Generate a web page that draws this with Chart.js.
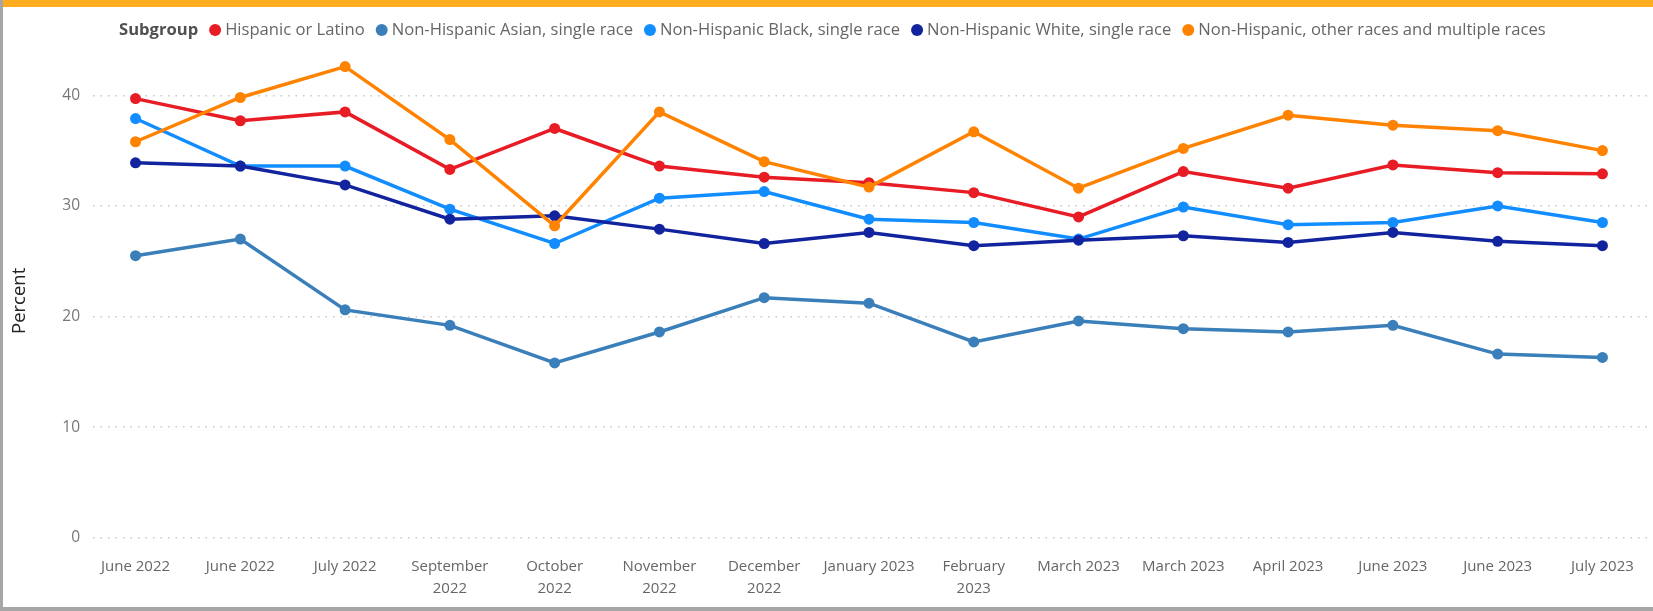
<!DOCTYPE html>
<html>
<head>
<meta charset="utf-8">
<title>Subgroup</title>
<style>
html, body { margin: 0; padding: 0; background: #fff; }
#wrap { position: relative; width: 1653px; height: 611px; overflow: hidden; }
#wrap canvas { position: absolute; left: 0; top: 0; }
.bar-top { position: absolute; left: 0; top: 0; width: 1653px; height: 7px; background: #FDAB1F; }
.bar-left { position: absolute; left: 0; top: 0; width: 3px; height: 611px; background: #A6A6A6; }
.bar-bottom { position: absolute; left: 0; top: 607px; width: 1653px; height: 4px; background: #A6A6A6; }
</style>
</head>
<body>
<div id="wrap">
    <canvas id="chart" width="1653" height="611"></canvas>
    <div class="bar-top"></div>
    <div class="bar-left"></div>
    <div class="bar-bottom"></div>
</div>

<script src="https://cdn.jsdelivr.net/npm/chart.js"></script>
<script>
const categories = ['June 2022', 'June 2022', 'July 2022', 'September 2022', 'October 2022',
    'November 2022', 'December 2022', 'January 2023', 'February 2023', 'March 2023',
    'March 2023', 'April 2023', 'June 2023', 'June 2023', 'July 2023'];
// tick labels as Power BI wraps them
const tickLabels = [['June 2022'], ['June 2022'], ['July 2022'], ['September', '2022'], ['October', '2022'],
    ['November', '2022'], ['December', '2022'], ['January 2023'], ['February', '2023'], ['March 2023'],
    ['March 2023'], ['April 2023'], ['June 2023'], ['June 2023'], ['July 2023']];

const hispanic = [39.7, 37.7, 38.5, 33.3, 37.0, 33.6, 32.6, 32.1, 31.2, 29.0, 33.1, 31.6, 33.7, 33.0, 32.9];
const asian    = [25.5, 27.0, 20.6, 19.2, 15.8, 18.6, 21.7, 21.2, 17.7, 19.6, 18.9, 18.6, 19.2, 16.6, 16.3];
const black    = [37.9, 33.6, 33.6, 29.7, 26.6, 30.7, 31.3, 28.8, 28.5, 27.0, 29.9, 28.3, 28.5, 30.0, 28.5];
const white    = [33.9, 33.6, 31.9, 28.8, 29.1, 27.9, 26.6, 27.6, 26.4, 26.9, 27.3, 26.7, 27.6, 26.8, 26.4];
const other    = [35.8, 39.8, 42.6, 36.0, 28.2, 38.5, 34.0, 31.7, 36.7, 31.6, 35.2, 38.2, 37.3, 36.8, 35.0];

const yTicks = [0, 10, 20, 30, 40];
const yTitle = 'Percent';

const FONT = '"Open Sans", "Noto Sans", sans-serif';

function series(label, values, color, order) {
    return {
        label: label,
        data: values.map((v, i) => ({ x: i, y: v })),
        borderColor: color,
        backgroundColor: color,
        borderWidth: 3.5,
        pointRadius: 5.5,
        pointBorderWidth: 0,
        pointHoverRadius: 5.5,
        tension: 0,
        order: order
    };
}

// legend drawn inline with a bold "Subgroup" caption, like Power BI,
// plus the y axis title sitting a bit below the axis middle
const subgroupLegend = {
    id: 'subgroupLegend',
    afterDraw(chart) {
        const ctx = chart.ctx;
        const y = 30;
        let x = 119;
        ctx.save();
        ctx.textBaseline = 'middle';
        ctx.textAlign = 'left';
        ctx.font = 'bold 16.6px ' + FONT;
        ctx.fillStyle = '#505050';
        ctx.fillText('Subgroup', x, y);
        x += ctx.measureText('Subgroup').width;
        ctx.font = '16.6px ' + FONT;
        chart.data.datasets.forEach(ds => {
            const cx = x + 17;
            ctx.beginPath();
            ctx.arc(cx, y, 6, 0, Math.PI * 2);
            ctx.fillStyle = ds.borderColor;
            ctx.fill();
            ctx.fillStyle = '#666666';
            ctx.fillText(ds.label, cx + 10, y);
            x = cx + 10 + ctx.measureText(ds.label).width;
        });

        const area = chart.chartArea;
        ctx.translate(20, (area.top + area.bottom) / 2 + 12);
        ctx.rotate(-Math.PI / 2);
        ctx.textAlign = 'center';
        ctx.font = '18.5px ' + FONT;
        ctx.fillStyle = '#252423';
        ctx.fillText(yTitle, 0, 0);
        ctx.restore();
    }
};

new Chart(document.getElementById('chart'), {
    type: 'line',
    data: {
        datasets: [
            series('Hispanic or Latino', hispanic, '#E81C24', 5),
            series('Non-Hispanic Asian, single race', asian, '#3A7FBA', 4),
            series('Non-Hispanic Black, single race', black, '#118DFF', 3),
            series('Non-Hispanic White, single race', white, '#12239E', 2),
            series('Non-Hispanic, other races and multiple races', other, '#FF8300', 1)
        ]
    },
    options: {
        responsive: false,
        animation: false,
        layout: { padding: { top: 40, left: 0, right: 0, bottom: 0 } },
        plugins: {
            legend: { display: false },
            tooltip: { enabled: false }
        },
        scales: {
            x: {
                type: 'linear',
                min: -0.406,
                max: 14.43,
                afterBuildTicks: s => { s.ticks = categories.map((_, i) => ({ value: i })); },
                afterFit: s => { s.height = 73.3; },
                grid: { display: false, drawTicks: false },
                border: { display: false },
                ticks: {
                    autoSkip: false,
                    maxRotation: 0,
                    padding: 18,
                    color: '#666666',
                    font: { family: FONT, size: 15, lineHeight: 1.47 },
                    callback: v => tickLabels[v]
                }
            },
            y: {
                min: 0,
                max: 45,
                afterBuildTicks: s => { s.ticks = yTicks.map(v => ({ value: v })); },
                afterFit: s => { s.width = 93; },
                grid: { color: '#C8C8C8', lineWidth: 1.5, drawTicks: false },
                border: { display: false, dash: [1.5, 6] },
                ticks: {
                    padding: 13,
                    color: '#777777',
                    font: { family: FONT, size: 15.5 }
                }
            }
        }
    },
    plugins: [subgroupLegend]
});
</script>
</body>
</html>
